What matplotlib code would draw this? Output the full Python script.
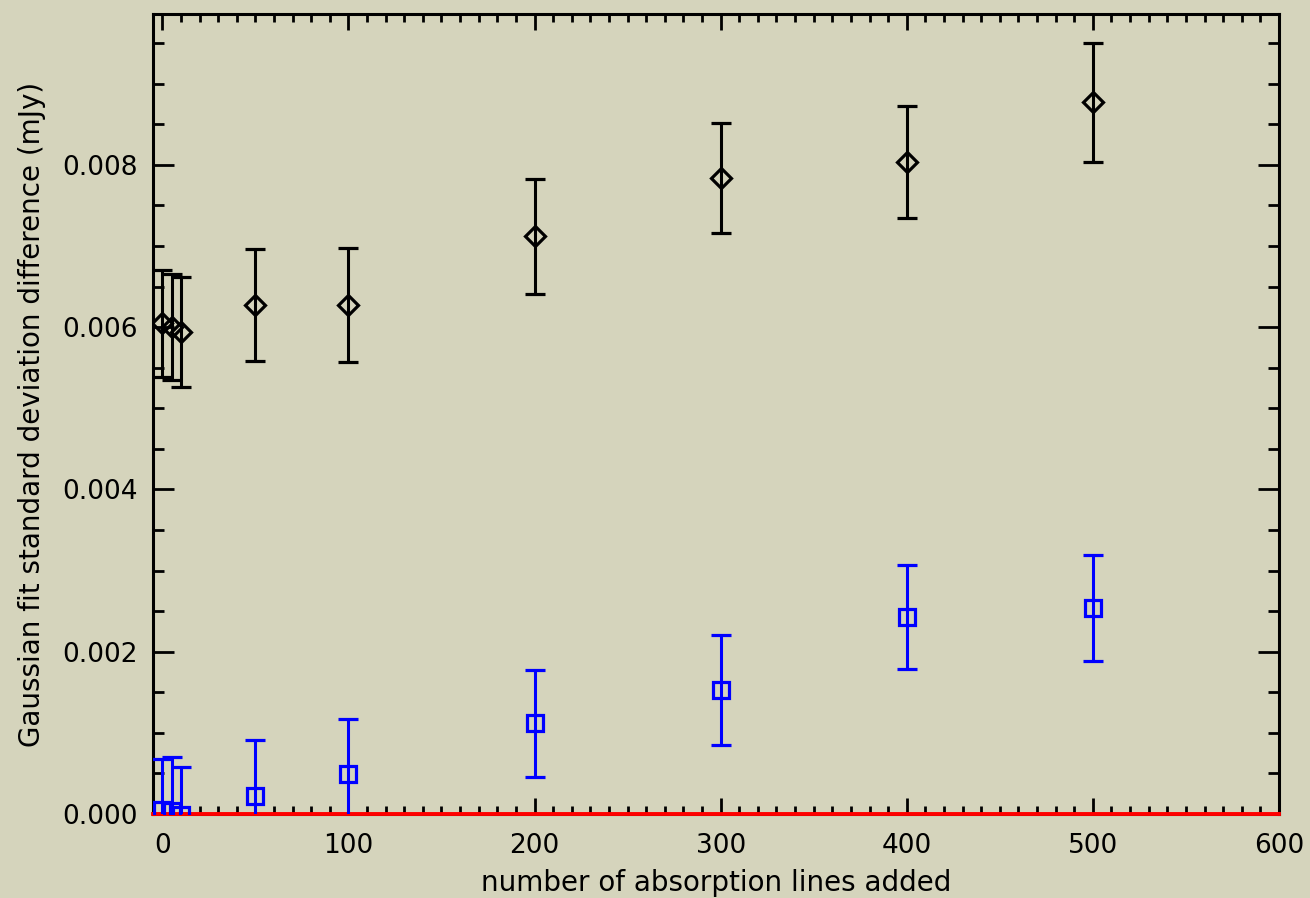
import matplotlib
matplotlib.use("Agg")
import matplotlib.pyplot as plt
from matplotlib.ticker import MultipleLocator, FormatStrFormatter

# Number of absorption lines added
n_lines = [0, 5, 10, 50, 100, 200, 300, 400, 500]

# Black series (diamonds): value and symmetric error
black_val = [0.00605, 0.00600, 0.00594, 0.00627, 0.00627, 0.00712, 0.00784, 0.00804, 0.00877]
black_err = [0.00066, 0.00065, 0.00068, 0.00069, 0.00070, 0.00071, 0.00068, 0.00069, 0.00073]

# Blue series (squares): value and symmetric error
blue_val = [0.00005, 0.00004, -0.00001, 0.00022, 0.00049, 0.00112, 0.00153, 0.00243, 0.00254]
blue_err = [0.00063, 0.00066, 0.00059, 0.00069, 0.00068, 0.00066, 0.00068, 0.00064, 0.00065]

bg = "#d5d4bc"
fs = 19
label_fs = 20

fig = plt.figure(figsize=(13.10, 8.98), dpi=100, facecolor=bg)
ax = fig.add_axes([0.1168, 0.0935, 0.9763 - 0.1168, 0.9844 - 0.0935])
ax.set_facecolor(bg)

ax.axhline(0.0, color="#ff0000", lw=2.8, zorder=3, clip_on=False)

ax.errorbar(n_lines, black_val, yerr=black_err, fmt="D", ms=10, mfc="none",
            mec="black", mew=2.3, ecolor="black", elinewidth=2.2,
            capsize=7, capthick=2.2, zorder=4)
ax.errorbar(n_lines, blue_val, yerr=blue_err, fmt="s", ms=12, mfc="none",
            mec="#0000ff", mew=2.3, ecolor="#0000ff", elinewidth=2.2,
            capsize=7, capthick=2.2, zorder=4)

ax.set_xlim(-5, 600)
ax.set_ylim(0.0, 0.00986)

ax.xaxis.set_major_locator(MultipleLocator(100))
ax.xaxis.set_minor_locator(MultipleLocator(10))
ax.yaxis.set_major_locator(MultipleLocator(0.002))
ax.yaxis.set_minor_locator(MultipleLocator(0.0005))
ax.yaxis.set_major_formatter(FormatStrFormatter("%.3f"))

ax.tick_params(axis="both", which="both", direction="in", top=True, right=True,
               width=2, colors="black", labelsize=fs)
ax.tick_params(axis="x", which="major", length=11.5, pad=14)
ax.tick_params(axis="x", which="minor", length=5.8)
ax.tick_params(axis="y", which="major", length=15, pad=11)
ax.tick_params(axis="y", which="minor", length=8)

for sp in ax.spines.values():
    sp.set_linewidth(2.2)

ax.set_xlabel("number of absorption lines added", fontsize=label_fs, labelpad=7)
ax.set_ylabel("Gaussian fit standard deviation difference (mJy)", fontsize=label_fs, labelpad=12)

fig.savefig("out.png", dpi=100, facecolor=bg)
